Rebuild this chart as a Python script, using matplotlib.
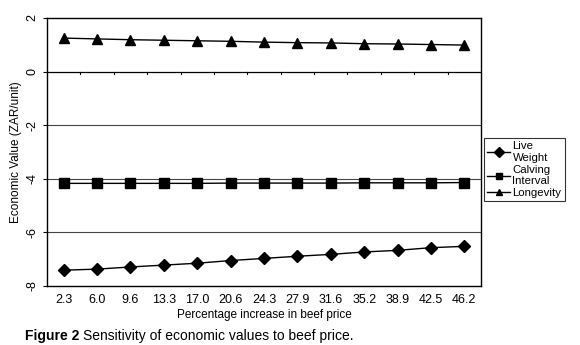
import matplotlib
matplotlib.use("Agg")
import matplotlib.pyplot as plt

plt.rcParams['font.family'] = ['Liberation Sans', 'DejaVu Sans']
plt.rcParams['axes.unicode_minus'] = False

categories = ["2.3", "6.0", "9.6", "13.3", "17.0", "20.6", "24.3", "27.9",
              "31.6", "35.2", "38.9", "42.5", "46.2"]
live_weight = [-7.41, -7.37, -7.29, -7.22, -7.15, -7.05, -6.97, -6.89,
               -6.82, -6.73, -6.67, -6.57, -6.52]
calving_interval = [-4.17, -4.17, -4.17, -4.17, -4.17, -4.16, -4.16, -4.16,
                    -4.16, -4.15, -4.15, -4.15, -4.14]
longevity = [1.25, 1.22, 1.19, 1.17, 1.15, 1.13, 1.10, 1.08, 1.07, 1.04,
             1.03, 1.01, 0.99]
series_names = ["Live\nWeight", "Calving\nInterval", "Longevity"]
y_ticks = [2, 0, -2, -4, -6, -8]

fig = plt.figure(figsize=(5.8, 3.45), dpi=100)
ax = fig.add_axes([47/580, 1-286/345, (481-47)/580, (286-18)/345])

x = list(range(len(categories)))
ax.plot(x, live_weight, color='black', lw=1, marker='D', ms=6, label=series_names[0])
ax.plot(x, calving_interval, color='black', lw=1, marker='s', ms=7.5, label=series_names[1])
ax.plot(x, longevity, color='black', lw=1, marker='^', ms=7, label=series_names[2])

ax.set_xlim(-0.5, len(categories) - 0.5)
ax.set_ylim(-8, 2)
ax.set_yticks(y_ticks)
ax.set_yticklabels([str(v) for v in y_ticks], rotation=90, va='center', fontsize=9)
ax.tick_params(axis='y', direction='out', length=3, width=0.8, pad=3)
ax.set_xticks(x)
ax.set_xticklabels(categories, fontsize=9)
ax.tick_params(axis='x', length=0, pad=6)
for g in [-2, -4, -6]:
    ax.axhline(g, color='#444444', lw=0.8, zorder=0)
ax.axhline(0, color='black', lw=0.9, zorder=1)
for s in ax.spines.values():
    s.set_linewidth(1.0)

# category axis tick marks at y=0
for k in range(1, len(categories)):
    ax.plot([k - 0.5, k - 0.5], [0, -0.1], color='black', lw=0.8, clip_on=False, zorder=1)

ax.set_xlabel("Percentage increase in beef price", fontsize=8.5, labelpad=2)
ax.set_ylabel("Economic Value (ZAR/unit)", fontsize=8.5, labelpad=3)

leg = ax.legend(loc='upper left', bbox_to_anchor=(484/580, 1-138/345),
                bbox_transform=fig.transFigure, fontsize=8.2, frameon=True,
                fancybox=False, edgecolor='black', handlelength=2.0,
                handletextpad=0.2, borderpad=0.3, labelspacing=0.15,
                borderaxespad=0)
leg.get_frame().set_linewidth(0.8)
for h in leg.legend_handles:
    h.set_markersize(5)

fig.text(25/580, 1-336/345, "Figure 2", fontsize=10, fontweight='bold', va='center', ha='left')
fig.text(83/580, 1-336/345, "Sensitivity of economic values to beef price.", fontsize=10,
         va='center', ha='left')

fig.savefig("out.png", dpi=100)
